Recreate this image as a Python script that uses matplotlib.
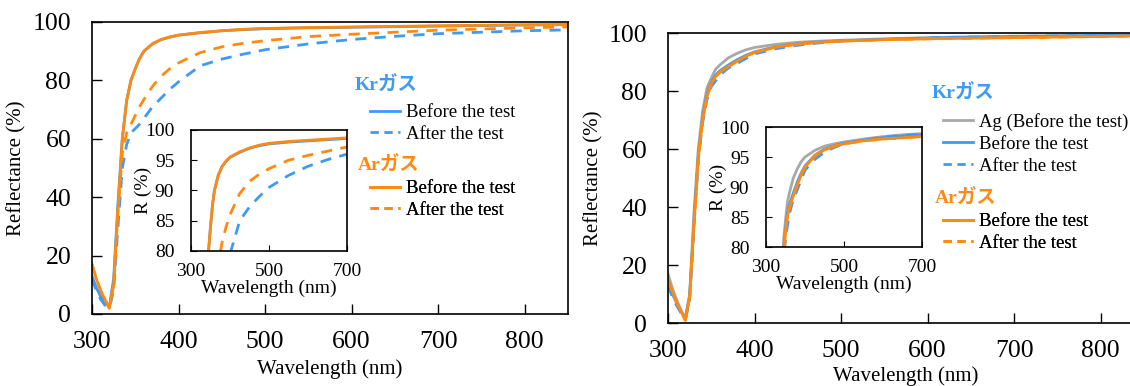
import matplotlib.pyplot as plt
from matplotlib.lines import Line2D

plt.rcParams['font.family'] = ['Liberation Serif', 'Noto Sans CJK JP']

BLUE = '#3d9bf5'
ORANGE = '#ff8a12'
GRAY = '#a8a8a8'

# wavelength grid (nm)
wl = [300, 305, 310, 315, 320, 325, 330, 335, 340, 345, 350, 355, 360, 370, 380,
      390, 400, 425, 450, 475, 500, 550, 600, 650, 700, 750, 800, 850]

# left panel
kr_before_L = [13, 9, 6, 4, 2.5, 12, 38, 60, 73, 80, 84, 87.5, 90, 92.5, 94,
               94.8, 95.5, 96.3, 97.0, 97.4, 97.7, 98.0, 98.2, 98.4, 98.6, 98.8, 99.0, 99.1]
kr_after_L = [12, 8, 5, 3, 2, 8, 30, 50, 58, 62, 63.5, 65, 67, 71, 74,
              77, 79.5, 85, 87.3, 89, 90.5, 92.5, 94, 95.1, 96, 96.5, 97, 97.3]
ar_before_L = [17, 12, 8, 5, 2, 10, 36, 60, 73, 80, 84, 87.5, 90, 92.6, 94,
               94.9, 95.5, 96.4, 97.0, 97.5, 97.8, 98.1, 98.3, 98.5, 98.7, 98.9, 99.0, 99.1]
ar_after_L = [17, 12, 8, 5, 2, 10, 35, 55, 62, 65, 68, 71, 73.5, 78, 81.5,
              84, 86, 89.5, 91.5, 92.7, 93.6, 95, 95.8, 96.5, 97.2, 97.6, 98, 98.3]

# right panel
ag_R = [17, 12, 8, 4.5, 1.5, 10, 38, 60, 73, 81, 84.5, 87.5, 89, 91.5, 93,
        94.2, 95, 96.1, 96.8, 97.2, 97.5, 98.0, 98.4, 98.7, 98.9, 99.1, 99.2, 99.3]
kr_before_R = [14, 10, 7, 4, 1.5, 9, 35, 58, 71, 79, 83, 85.5, 87, 89, 90.8,
               92.3, 93.5, 95.3, 96.3, 96.9, 97.3, 97.8, 98.2, 98.5, 98.7, 98.9, 99.1, 99.2]
kr_after_R = [13, 9, 6, 3.5, 1, 8, 33, 56, 69, 77, 81.5, 83.5, 85.5, 88, 89.5,
              91.2, 92.8, 94.6, 95.8, 96.6, 97.2, 97.8, 98.3, 98.6, 98.8, 99.0, 99.2, 99.3]
ar_before_R = [15, 11, 7, 4, 1, 9, 34, 57, 70, 78, 82.5, 85, 86.5, 88.5, 90.3,
               92, 93.3, 95.2, 96.2, 96.8, 97.2, 97.7, 98.0, 98.2, 98.4, 98.6, 98.8, 99.0]
ar_after_R = [15, 11, 7, 4, 1, 9, 34, 57, 70, 78, 82.5, 85, 86.5, 88.5, 90.3,
              92, 93.3, 95.2, 96.2, 96.8, 97.2, 97.7, 98.0, 98.2, 98.4, 98.6, 98.8, 99.0]

main_ticks = [300, 400, 500, 600, 700, 800]
inset_ticks = [300, 500, 700]

fig = plt.figure(figsize=(11.3, 3.86), dpi=100)
W, H = 1130, 386


def box(l, t, r, b):
    return [l / W, (H - b) / H, (r - l) / W, (b - t) / H]


def style_main(ax, xl_y, yl_x):
    ax.set_xlim(300, 850)
    ax.set_ylim(0, 100)
    ax.set_xticks(main_ticks)
    ax.set_yticks([0, 20, 40, 60, 80, 100])
    ax.tick_params(direction='in', length=7, labelsize=18.5, width=1)
    ax.tick_params(axis='x', pad=12)
    ax.tick_params(axis='y', pad=15)
    ax.set_xlabel('Wavelength (nm)', fontsize=15)
    ax.set_ylabel('Reflectance (%)', fontsize=15)
    ax.xaxis.set_label_coords(0.5, xl_y)
    ax.yaxis.set_label_coords(yl_x, 0.5)
    for s in ax.spines.values():
        s.set_linewidth(1.2)


def style_inset(ax, xl_y, yl_x):
    ax.set_xlim(300, 700)
    ax.set_ylim(80, 100)
    ax.set_xticks(inset_ticks)
    ax.set_yticks([80, 85, 90, 95, 100])
    ax.tick_params(direction='in', length=4, labelsize=14)
    ax.tick_params(axis='x', pad=9)
    ax.tick_params(axis='y', pad=12)
    ax.set_xlabel('Wavelength (nm)', fontsize=14)
    ax.set_ylabel('R (%)', fontsize=14)
    ax.xaxis.set_label_coords(0.5, xl_y)
    ax.yaxis.set_label_coords(yl_x, 0.5)
    ax.patch.set_facecolor('white')
    for s in ax.spines.values():
        s.set_linewidth(1.2)


def plot_left(ax, lw):
    ax.plot(wl, kr_before_L, color=BLUE, lw=lw)
    ax.plot(wl, kr_after_L, color=BLUE, lw=lw, ls=(0, (4, 3)))
    ax.plot(wl, ar_after_L, color=ORANGE, lw=lw, ls=(0, (4, 3)))
    ax.plot(wl, ar_before_L, color=ORANGE, lw=lw)


def plot_right(ax, lw):
    ax.plot(wl, ag_R, color=GRAY, lw=lw)
    ax.plot(wl, kr_before_R, color=BLUE, lw=lw)
    ax.plot(wl, kr_after_R, color=BLUE, lw=lw, ls=(0, (4, 3)))
    ax.plot(wl, ar_before_R, color=ORANGE, lw=lw)
    ax.plot(wl, ar_after_R, color=ORANGE, lw=lw, ls=(0, (4, 3)))


def legend_block(ax, x, y, handles, labels):
    leg = ax.legend(handles, labels, loc='upper left',
                    bbox_to_anchor=(x / W, 1 - y / H), bbox_transform=fig.transFigure,
                    frameon=False, fontsize=13.5, handlelength=1.6,
                    handletextpad=0.3, labelspacing=0.25, borderpad=0, borderaxespad=0)
    ax.add_artist(leg)


def header(x, y, gas, color):
    fig.text(x / W, 1 - y / H, gas + 'ガス',
             color=color, fontsize=14, fontweight='bold', va='center', ha='left')


solid_b = Line2D([], [], color=BLUE, lw=2)
dash_b = Line2D([], [], color=BLUE, lw=2, ls=(0, (3, 2)))
solid_o = Line2D([], [], color=ORANGE, lw=2)
dash_o = Line2D([], [], color=ORANGE, lw=2, ls=(0, (3, 2)))
solid_g = Line2D([], [], color=GRAY, lw=2)

# left panel
axL = fig.add_axes(box(92, 22, 568, 314))
plot_left(axL, 2)
style_main(axL, -0.155, -0.137)
legend_block(axL, 370, 104, [solid_b, dash_b], ['Before the test', 'After the test'])
legend_block(axL, 370, 180, [solid_o, dash_o], ['Before the test', 'After the test'])
header(355, 85, 'Kr', BLUE)
header(358, 165, 'Ar', ORANGE)

insL = fig.add_axes(box(191, 130, 347, 251))
plot_left(insL, 2)
style_inset(insL, -0.235, -0.25)

# right panel
axR = fig.add_axes(box(668, 33, 1144, 323))
plot_right(axR, 2)
style_main(axR, -0.15, -0.135)
legend_block(axR, 943, 113, [solid_g, solid_b, dash_b],
             ['Ag (Before the test)', 'Before the test', 'After the test'])
legend_block(axR, 943, 213, [solid_o, dash_o], ['Before the test', 'After the test'])
header(932, 93, 'Kr', BLUE)
header(935, 198, 'Ar', ORANGE)

insR = fig.add_axes(box(766, 127, 922, 247))
plot_right(insR, 2)
style_inset(insR, -0.24, -0.25)

fig.savefig('out.png', dpi=100)
